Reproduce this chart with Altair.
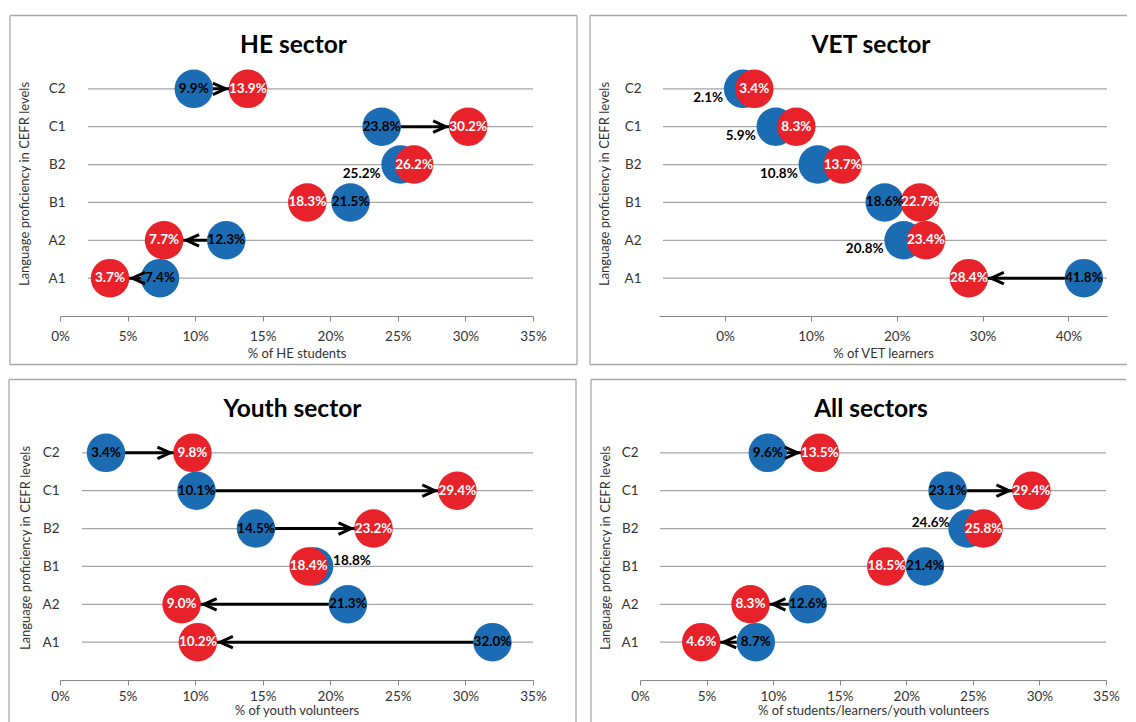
import altair as alt
import pandas as pd

# ---------------- data ----------------
levels = ["C2", "C1", "B2", "B1", "A2", "A1"]

he_before = [9.9, 23.8, 25.2, 21.5, 12.3, 7.4]
he_after = [13.9, 30.2, 26.2, 18.3, 7.7, 3.7]

vet_before = [2.1, 5.9, 10.8, 18.6, 20.8, 41.8]
vet_after = [3.4, 8.3, 13.7, 22.7, 23.4, 28.4]

youth_before = [3.4, 10.1, 14.5, 18.8, 21.3, 32.0]
youth_after = [9.8, 29.4, 23.2, 18.4, 9.0, 10.2]

all_before = [9.6, 23.1, 24.6, 21.4, 12.6, 8.7]
all_after = [13.5, 29.4, 25.8, 18.5, 8.3, 4.6]

panel_titles = ["HE sector", "VET sector", "Youth sector", "All sectors"]
x_titles = ["% of HE students", "% of VET learners", "% of youth volunteers",
            "% of students/learners/youth volunteers"]
y_title = "Language proficiency in CEFR levels"

ticks_35 = [0, 0.05, 0.10, 0.15, 0.20, 0.25, 0.30, 0.35]
ticks_vet = [0, 0.10, 0.20, 0.30, 0.40]

# where the blue (before) value label sits: c=centre, lb=left-below, la=left-above, ra=right-above
he_blue_pos = ["c", "c", "lb", "c", "c", "c"]
vet_blue_pos = ["lb", "lb", "lb", "c", "lb", "c"]
youth_blue_pos = ["c", "c", "c", "ra", "c", "c"]
all_blue_pos = ["c", "c", "la", "c", "c", "c"]

# ---------------- style ----------------
FONT = "Lato"
BLUE = "#1C6CB3"
RED = "#E8222A"
GRID = "#A6A6A6"
FRAME = "#A8A8A8"
AXISC = "#868686"
TEXTC = "#333333"
SIZE = 1480  # circle diameter ~38.5px
H = 265

RIGHT_HEAD = "M -1.82 -0.3 L -1.16 0 L -1.82 0.3"
LEFT_HEAD = "M 1.82 -0.3 L 1.16 0 L 1.82 0.3"


def one():
    return alt.Data(values=[{"k": 1}])


def panel(title, xtitle, before, after, pos, domain, ticks, W, grid_x0, ylab_pad,
          ytitle_x, fl, fr_true, fr_draw, draw_right, bottom, x_lab_pad, x_title_pad):
    df = pd.DataFrame({
        "level": levels,
        "before": [b / 100 for b in before],
        "after": [a / 100 for a in after],
        "pos": pos,
        "blabel": [f"{b:.1f}%" for b in before],
        "alabel": [f"{a:.1f}%" for a in after],
    })
    px_per = W / (domain[1] - domain[0])
    df["arrow"] = [abs(a - b) / 100 * px_per > 45 for a, b in zip(after, before)]
    df["dir"] = ["right" if a > b else "left" for a, b in zip(after, before)]

    yenc = alt.Y(
        "level:N", sort=levels, title=y_title,
        scale=alt.Scale(type="point", padding=1),
        axis=alt.Axis(domain=False, ticks=False, grid=False, labelFont=FONT, labelFontSize=13.5,
                      labelColor=TEXTC, labelPadding=ylab_pad, titleFont=FONT, titleFontSize=13,
                      titleFontWeight="normal", titleColor=TEXTC, titleX=ytitle_x, titleY=H / 2,
                      titleAngle=270, titleBaseline="middle", titleAlign="center"),
    )

    def xenc(field):
        return alt.X(
            f"{field}:Q", title=xtitle,
            scale=alt.Scale(domain=domain, nice=False, zero=False),
            axis=alt.Axis(values=ticks, format=".0%", grid=False, labelFlush=False,
                          domainColor=AXISC, tickColor=AXISC, tickSize=5,
                          labelFont=FONT, labelFontSize=13.5, labelColor=TEXTC,
                          labelPadding=x_lab_pad, titleFont=FONT, titleFontSize=13,
                          titleFontWeight="normal", titleColor=TEXTC, titlePadding=x_title_pad),
        )

    base = alt.Chart(df)
    side_bottom = bottom if bottom is not None else H + 46
    layers = []
    # frame
    fr = dict(color=FRAME, strokeWidth=1.3)
    layers.append(alt.Chart(one()).mark_rule(**fr).encode(
        x=alt.value(fl), x2=alt.value(fr_draw), y=alt.value(-35.5)))
    layers.append(alt.Chart(one()).mark_rule(**fr).encode(
        x=alt.value(fl), y=alt.value(-35.5), y2=alt.value(side_bottom)))
    if draw_right:
        layers.append(alt.Chart(one()).mark_rule(**fr).encode(
            x=alt.value(fr_draw), y=alt.value(-35.5), y2=alt.value(side_bottom)))
    if bottom is not None:
        layers.append(alt.Chart(one()).mark_rule(**fr).encode(
            x=alt.value(fl), x2=alt.value(fr_draw), y=alt.value(bottom)))
    # title
    layers.append(alt.Chart(one()).mark_text(
        text=title, font=FONT, fontSize=24.5, fontWeight="bold", color="black",
        align="center", baseline="alphabetic").encode(
        x=alt.value((fl + fr_true) / 2), y=alt.value(1.5)))
    # category lines
    layers.append(base.mark_rule(color=GRID, strokeWidth=1.2).encode(
        y=yenc, x=alt.value(grid_x0), x2=alt.value(W)))
    # arrow shafts
    layers.append(base.transform_filter("datum.arrow").mark_rule(
        color="black", strokeWidth=3).encode(x=xenc("before"), x2="after:Q", y=yenc))
    # circles
    layers.append(base.mark_circle(size=SIZE, color=BLUE, opacity=1).encode(
        x=xenc("before"), y=yenc))
    layers.append(base.mark_circle(size=SIZE, color=RED, opacity=1).encode(
        x=xenc("after"), y=yenc))
    # arrow heads
    for d, shp in (("right", RIGHT_HEAD), ("left", LEFT_HEAD)):
        layers.append(base.transform_filter(f"datum.arrow && datum.dir == '{d}'").mark_point(
            shape=shp, size=SIZE, filled=False, stroke="black", strokeWidth=3,
            strokeJoin="miter", opacity=1).encode(x=xenc("after"), y=yenc))
    # blue labels
    lab = dict(font=FONT, fontSize=13.5, fontWeight="bold", baseline="middle")
    placements = {
        "c": dict(align="center", dx=0, dy=0),
        "lb": dict(align="right", dx=-20, dy=9),
        "la": dict(align="right", dx=-18, dy=-6),
        "ra": dict(align="left", dx=19, dy=-5),
    }
    for key, p in placements.items():
        layers.append(base.transform_filter(f"datum.pos == '{key}'").mark_text(
            color="black", **lab, **p).encode(x=xenc("before"), y=yenc, text="blabel:N"))
    # red labels
    layers.append(base.mark_text(color="white", align="center", **lab).encode(
        x=xenc("after"), y=yenc, text="alabel:N"))

    return alt.layer(*layers).properties(width=W, height=H)


he = panel(panel_titles[0], x_titles[0], he_before, he_after, he_blue_pos, [0, 0.35], ticks_35,
           473, 28, -5, -36, -50, 517, 517, True, H + 48.5, 8, 5)
vet = panel(panel_titles[1], x_titles[1], vet_before, vet_after, vet_blue_pos, [-0.077, 0.445],
            ticks_vet, 448, 4, 18, -55, -69, 493, 468, False, H + 48.5, 8, 5)
youth = panel(panel_titles[2], x_titles[2], youth_before, youth_after, youth_blue_pos, [0, 0.35],
              ticks_35, 473, 22, 1, -35, -51, 516, 516, True, None, 4, 2)
allp = panel(panel_titles[3], x_titles[3], all_before, all_after, all_blue_pos, [0, 0.35],
             ticks_35, 466, 20, 2, -35, -49, 511, 486, False, None, 4, 2)

chart = alt.vconcat(
    alt.hconcat(he, vet, spacing=11),
    alt.hconcat(youth, allp, spacing=13),
    spacing=12,
).properties(
    padding={"left": 0, "top": 6, "right": 0, "bottom": 0}
).configure(font=FONT).configure_view(stroke=None)

chart.save("out.html", embed_options={"renderer": "svg", "actions": False})
